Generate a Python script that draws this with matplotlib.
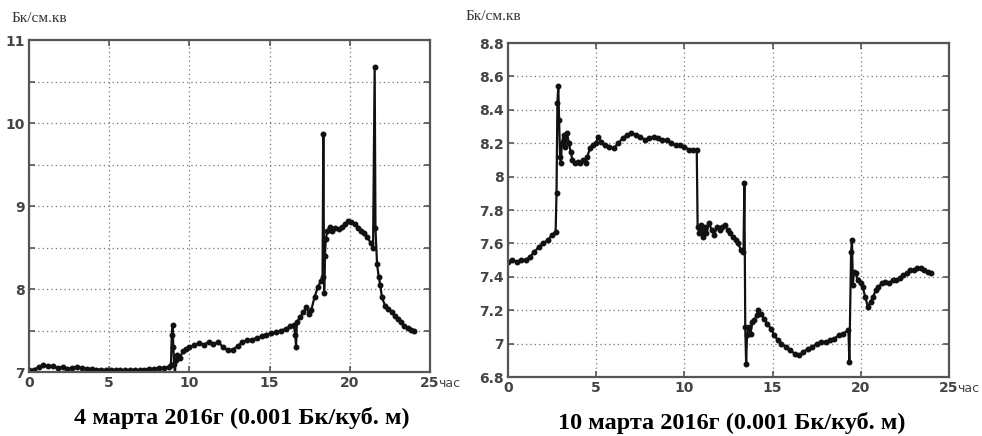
import matplotlib
matplotlib.use("Agg")
import matplotlib.pyplot as plt

# ---- data: 4 March 2016 ----
t4 = [0.0,0.3,0.6,0.9,1.2,1.5,1.8,2.1,2.4,2.7,3.0,3.3,3.6,3.9,4.2,4.5,4.8,5.1,5.4,5.7,
      6.0,6.3,6.6,6.9,7.2,7.5,7.8,8.1,8.4,8.7,8.85,8.9,8.95,9.0,9.05,9.1,9.15,9.25,9.4,9.6,
      9.8,10.0,10.3,10.6,10.9,11.2,11.5,11.8,12.1,12.4,12.7,13.0,13.3,13.6,13.9,14.2,14.5,14.8,15.1,15.4,
      15.7,16.0,16.3,16.5,16.6,16.65,16.7,16.9,17.1,17.3,17.45,17.6,17.8,18.0,18.2,18.3,18.35,18.4,18.45,18.5,
      18.6,18.75,18.9,19.1,19.3,19.5,19.7,19.9,20.1,20.3,20.5,20.7,20.9,21.1,21.3,21.45,21.55,21.6,21.7,21.8,
      21.9,22.0,22.2,22.4,22.6,22.8,23.0,23.2,23.4,23.6,23.8,24.0]
v4 = [7.02,7.03,7.06,7.08,7.07,7.07,7.05,7.06,7.04,7.05,7.06,7.05,7.04,7.04,7.03,7.03,7.02,7.02,7.03,7.02,
      7.02,7.02,7.03,7.02,7.03,7.04,7.04,7.05,7.05,7.06,7.08,7.45,7.57,7.30,7.10,6.98,7.15,7.20,7.17,7.25,
      7.28,7.30,7.32,7.35,7.33,7.36,7.34,7.36,7.30,7.26,7.27,7.31,7.36,7.38,7.39,7.41,7.43,7.45,7.47,7.48,
      7.50,7.52,7.55,7.57,7.45,7.30,7.60,7.66,7.72,7.78,7.70,7.75,7.90,8.02,8.10,8.15,9.87,7.95,8.40,8.60,
      8.70,8.75,8.70,8.74,8.72,8.75,8.78,8.82,8.81,8.78,8.74,8.70,8.67,8.63,8.55,8.50,10.68,8.73,8.30,8.15,
      8.05,7.90,7.80,7.76,7.72,7.68,7.64,7.60,7.56,7.53,7.51,7.50]

# ---- data: 10 March 2016 ----
t10 = [0.0,0.25,0.5,0.75,1.0,1.25,1.5,1.75,2.0,2.25,2.5,2.7,2.75,2.8,2.85,2.9,2.95,3.0,3.05,3.15,
       3.25,3.35,3.45,3.55,3.65,3.8,3.95,4.1,4.25,4.4,4.5,4.65,4.8,5.0,5.1,5.25,5.5,5.75,6.0,6.25,
       6.5,6.75,7.0,7.25,7.5,7.75,8.0,8.25,8.5,8.75,9.0,9.25,9.5,9.75,10.0,10.25,10.5,10.7,10.75,10.85,
       10.95,11.05,11.15,11.25,11.4,11.55,11.7,11.85,12.0,12.15,12.3,12.45,12.6,12.75,12.9,13.05,13.2,13.35,13.4,13.45,
       13.5,13.55,13.65,13.75,13.85,13.95,14.1,14.2,14.35,14.5,14.7,14.9,15.1,15.3,15.5,15.75,16.0,16.25,16.5,16.75,
       17.0,17.25,17.5,17.75,18.0,18.25,18.5,18.75,19.0,19.3,19.35,19.45,19.5,19.55,19.6,19.7,19.85,20.0,20.1,20.25,
       20.4,20.55,20.7,20.85,21.0,21.2,21.4,21.6,21.8,22.0,22.2,22.4,22.6,22.8,23.0,23.2,23.4,23.6,23.8,24.0]
v10 = [7.49,7.50,7.49,7.50,7.50,7.52,7.55,7.58,7.60,7.62,7.65,7.67,7.90,8.44,8.54,8.34,8.12,8.08,8.20,8.25,
       8.18,8.26,8.20,8.15,8.10,8.08,8.09,8.08,8.10,8.08,8.12,8.17,8.19,8.20,8.24,8.21,8.19,8.18,8.17,8.20,
       8.23,8.25,8.26,8.25,8.24,8.22,8.23,8.24,8.23,8.22,8.22,8.20,8.19,8.19,8.18,8.16,8.16,8.16,7.70,7.66,
       7.71,7.64,7.70,7.66,7.72,7.68,7.65,7.70,7.68,7.70,7.71,7.68,7.66,7.64,7.62,7.60,7.56,7.55,7.96,7.10,
       6.88,7.05,7.10,7.06,7.13,7.14,7.17,7.20,7.18,7.15,7.12,7.09,7.05,7.02,7.00,6.98,6.96,6.94,6.93,6.95,
       6.97,6.98,7.00,7.01,7.01,7.02,7.03,7.05,7.06,7.08,6.89,7.55,7.62,7.35,7.43,7.42,7.38,7.36,7.34,7.28,
       7.22,7.25,7.28,7.32,7.34,7.36,7.37,7.36,7.38,7.38,7.39,7.41,7.42,7.44,7.44,7.45,7.45,7.44,7.43,7.42]

x_ticks = [0, 5, 10, 15, 20, 25]
y4_ticks = [7, 7.5, 8, 8.5, 9, 9.5, 10, 10.5, 11]
y10_ticks = [6.8, 7.0, 7.2, 7.4, 7.6, 7.8, 8.0, 8.2, 8.4, 8.6, 8.8]
unit_label = "Бк/см.кв"
hour_label = "час"
title4 = "4 марта 2016г (0.001 Бк/куб. м)"
title10 = "10 марта 2016г (0.001 Бк/куб. м)"

fig = plt.figure(figsize=(9.82, 4.36), dpi=100)
W, H = 982, 436

def px_axes(l, t, r, b):
    return fig.add_axes([l / W, 1 - b / H, (r - l) / W, (b - t) / H])

ax1 = px_axes(29, 40, 430, 372)
ax2 = px_axes(508, 43, 949, 377)

def fmt(v):
    return ("%g" % v)

def style(ax, yt, ylim, labels):
    ax.set_xlim(0, 25)
    ax.set_ylim(*ylim)
    ax.set_xticks(x_ticks)
    ax.set_xticklabels([str(x) for x in x_ticks])
    ax.set_yticks(yt)
    ax.set_yticklabels(labels)
    ax.grid(True, linestyle=(0, (1, 2.5)), color="#777777", linewidth=0.9)
    for s in ax.spines.values():
        s.set_color("#555555")
        s.set_linewidth(1.6)
    ax.tick_params(direction="in", length=4, width=1.2, colors="#555555",
                   top=True, right=True, labelsize=10, pad=3)
    for lab in ax.get_xticklabels() + ax.get_yticklabels():
        lab.set_color("#444444")
        lab.set_fontweight("bold")

ax1.plot(t4, v4, color="#111111", linewidth=1.6, marker=".", markersize=6.5)
ax2.plot(t10, v10, color="#111111", linewidth=1.6, marker=".", markersize=6.5)

style(ax1, y4_ticks, (7, 11), [fmt(v) if float(v).is_integer() else "" for v in y4_ticks])
style(ax2, y10_ticks, (6.8, 8.8), [fmt(round(v, 1)) for v in y10_ticks])

serif = ["Liberation Serif", "DejaVu Serif"]
fig.text(12 / W, 1 - 19 / H, unit_label, fontsize=11, family=serif, color="#333333", va="center", ha="left")
fig.text(466 / W, 1 - 17 / H, unit_label, fontsize=11, family=serif, color="#333333", va="center", ha="left")
fig.text(438 / W, 1 - 383 / H, hour_label, fontsize=9, color="#444444", va="center", ha="left")
fig.text(957 / W, 1 - 388 / H, hour_label, fontsize=9, color="#444444", va="center", ha="left")

fig.text(242 / W, 1 - 418 / H, title4, fontsize=17.5, family=serif, fontweight="bold", ha="center", va="center")
fig.text(732 / W, 1 - 423 / H, title10, fontsize=17.5, family=serif, fontweight="bold", ha="center", va="center")

fig.savefig("out.png", dpi=100)
